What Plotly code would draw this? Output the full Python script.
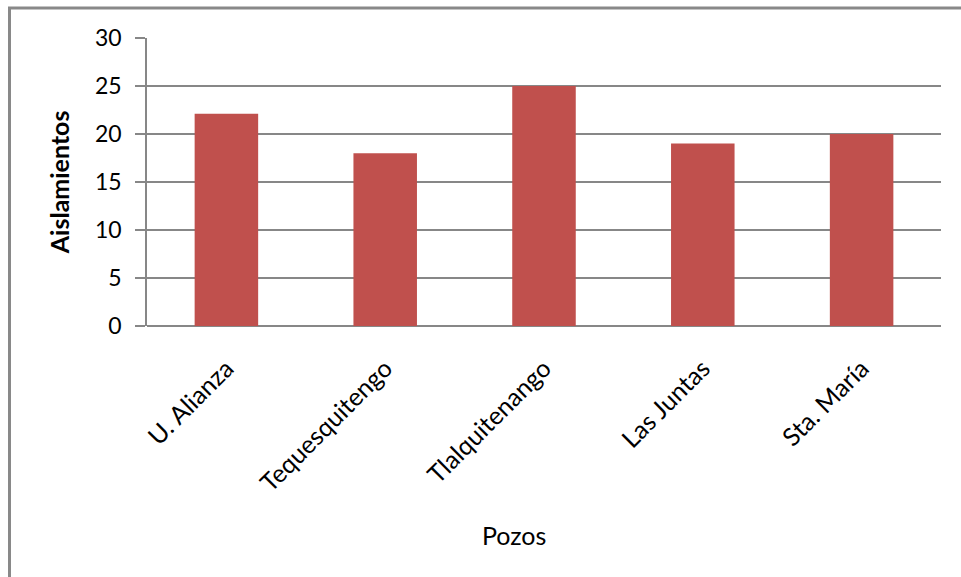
import plotly.graph_objects as go

# Aislamientos por pozo
pozos = ["U. Alianza", "Tequesquitengo", "Tlalquitenango", "Las Juntas", "Sta. María"]
aislamientos = [22.1, 18, 25, 19, 20]
y_ticks = [0, 5, 10, 15, 20, 25, 30]

W, H = 961, 577
L, R, T, B = 147, 20, 37.5, 251
plot_w = W - L - R
plot_h = H - T - B

def px_x(px):
    return (px - L) / plot_w

def px_y(py):
    return (H - B - py) / plot_h

font_family = "Lato, 'Open Sans', sans-serif"
grid_col = "#878787"

fig = go.Figure(
    go.Bar(
        x=pozos,
        y=aislamientos,
        marker=dict(color="#C0504D", line=dict(width=0)),
        hoverinfo="x+y",
    )
)

fig.update_layout(
    width=W,
    height=H,
    margin=dict(l=L, r=R, t=T, b=B, pad=0),
    paper_bgcolor="white",
    plot_bgcolor="white",
    bargap=0.6,
    showlegend=False,
    font=dict(family=font_family, color="black"),
    xaxis=dict(
        type="category",
        tickangle=-45,
        tickfont=dict(size=25, family=font_family, color="black"),
        ticks="",
        showgrid=False,
        showline=False,
        zeroline=False,
        ticklabelstandoff=22,
    ),
    yaxis=dict(
        range=[0, 30],
        tickvals=y_ticks,
        ticktext=[str(v) for v in y_ticks],
        tickfont=dict(size=23, family=font_family, color="black"),
        ticks="outside",
        ticklen=10,
        tickwidth=1.5,
        tickcolor=grid_col,
        showgrid=True,
        gridcolor=grid_col,
        gridwidth=1.5,
        showline=True,
        linecolor=grid_col,
        linewidth=1.5,
        zeroline=True,
        zerolinecolor=grid_col,
        zerolinewidth=1.5,
        ticklabelstandoff=9,
    ),
    shapes=[
        dict(
            type="rect",
            xref="paper",
            yref="paper",
            x0=px_x(9.5),
            x1=px_x(990),
            y0=px_y(600),
            y1=px_y(7.5),
            line=dict(color="#898989", width=3),
            fillcolor="rgba(0,0,0,0)",
            layer="below",
        )
    ],
    annotations=[
        dict(
            text="<b>Aislamientos</b>",
            xref="paper",
            yref="paper",
            x=px_x(59),
            y=px_y(182),
            textangle=-90,
            showarrow=False,
            font=dict(size=25, family=font_family, color="black"),
            xanchor="center",
            yanchor="middle",
        ),
        dict(
            text="Pozos",
            xref="paper",
            yref="paper",
            x=px_x(514),
            y=px_y(535),
            showarrow=False,
            font=dict(size=25, family=font_family, color="black"),
            xanchor="center",
            yanchor="middle",
        ),
    ],
)

fig.write_html("out.html")
